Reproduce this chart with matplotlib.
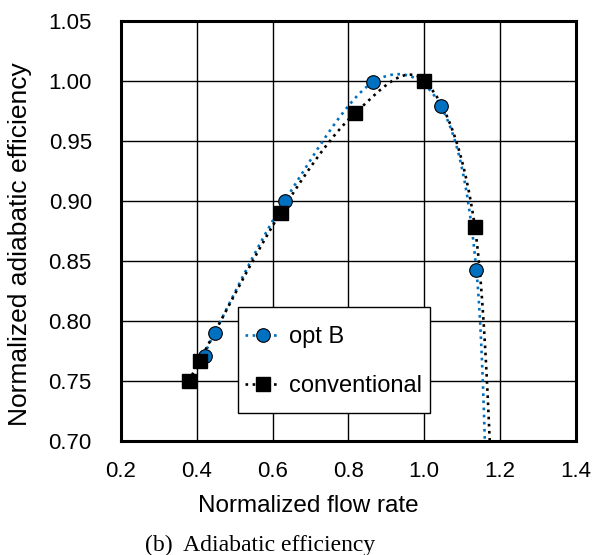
import numpy as np
import matplotlib
matplotlib.use("Agg")
import matplotlib.pyplot as plt
from matplotlib.patches import Rectangle

# Data (last points lie below the visible range)
optB_x = [0.4225, 0.447, 0.632, 0.866, 1.044, 1.138, 1.172]
optB_y = [0.771, 0.790, 0.900, 0.999, 0.979, 0.842, 0.56]
conv_x = [0.380, 0.408, 0.621, 0.818, 1.000, 1.134, 1.188]
conv_y = [0.750, 0.767, 0.890, 0.973, 1.000, 0.878, 0.59]
n_visible_B = 6
n_visible_C = 6

x_ticks = [0.2, 0.4, 0.6, 0.8, 1.0, 1.2, 1.4]
y_ticks = [0.70, 0.75, 0.80, 0.85, 0.90, 0.95, 1.00, 1.05]


def smooth(xs, ys, n=60):
    """Catmull-Rom style Bezier smoothing (Excel-like smoothed line)."""
    P = np.column_stack([xs, ys]).astype(float)
    out = []
    m = len(P)
    for i in range(m - 1):
        p0 = P[i - 1] if i > 0 else P[i]
        p1 = P[i]
        p2 = P[i + 1]
        p3 = P[i + 2] if i + 2 < m else P[i + 1]
        c1 = p1 + (p2 - p0) / 6.0
        c2 = p2 - (p3 - p1) / 6.0
        t = np.linspace(0, 1, n)[:, None]
        seg = ((1 - t) ** 3) * p1 + 3 * ((1 - t) ** 2) * t * c1 + 3 * (1 - t) * t ** 2 * c2 + t ** 3 * p2
        out.append(seg)
    c = np.vstack(out)
    return c[:, 0], c[:, 1]


plt.rcParams['font.family'] = ['Liberation Sans', 'DejaVu Sans']

fig = plt.figure(figsize=(5.92, 5.55), dpi=100)
ax = fig.add_axes([0.2044, 0.2054, 0.7681, 0.7573])

blue = '#0070C0'
dots = (0, (1, 1.7))
bx, by = smooth(optB_x, optB_y)
cx, cy = smooth(conv_x, conv_y)
ax.plot(bx, by, color=blue, lw=1.9, ls=dots, zorder=3)
ax.plot(cx, cy, color='black', lw=1.9, ls=dots, zorder=3)
ax.plot(optB_x[:n_visible_B], optB_y[:n_visible_B], ls='none', marker='o', ms=9.8,
        mfc=blue, mec='black', mew=0.8, zorder=4)
ax.plot(conv_x[:n_visible_C], conv_y[:n_visible_C], ls='none', marker='s', ms=10.5,
        mfc='black', mec='black', zorder=4)

# legend box
ax.add_patch(Rectangle((0.257, 0.0666), 0.423, 0.2524, transform=ax.transAxes,
                       facecolor='white', edgecolor='black', lw=1.0, zorder=6))
hB, = ax.plot([], [], color=blue, lw=1.9, ls=dots, marker='o', ms=9.8,
              mfc=blue, mec='black', mew=0.8, label='opt B')
hC, = ax.plot([], [], color='black', lw=1.9, ls=dots, marker='s', ms=10.5,
              mfc='black', mec='black', label='conventional')
leg = ax.legend(handles=[hB, hC], loc='center left', bbox_to_anchor=(0.2727, 0.189),
                frameon=False, fontsize=17, labelspacing=1.15, handlelength=1.5,
                handletextpad=0.35, borderpad=0, borderaxespad=0)
leg.set_zorder(7)

ax.set_xlim(0.2, 1.4)
ax.set_ylim(0.70, 1.05)
ax.set_xticks(x_ticks)
ax.set_xticklabels([f"{v:.1f}" for v in x_ticks])
ax.set_yticks(y_ticks)
ax.set_yticklabels([f"{v:.2f}" for v in y_ticks])
ax.grid(True, color='black', lw=1.0)
ax.set_axisbelow(True)
ax.tick_params(length=0, labelsize=16)
ax.tick_params(axis='x', pad=14.5)
ax.tick_params(axis='y', pad=21)
for s in ax.spines.values():
    s.set_linewidth(2.2)
    s.set_zorder(8)

ax.set_xlabel('Normalized flow rate', fontsize=17.5, va='top')
ax.xaxis.set_label_coords(0.411, -0.128)
ax.set_ylabel('Normalized adiabatic efficiency', fontsize=19)
ax.yaxis.set_label_coords(-0.196, 0.469)

fig.text(0.439, 0.0072, '(b)  Adiabatic efficiency', ha='center', va='baseline',
         fontsize=17, family=['Liberation Serif', 'DejaVu Serif'])

fig.savefig('out.png', dpi=100)
